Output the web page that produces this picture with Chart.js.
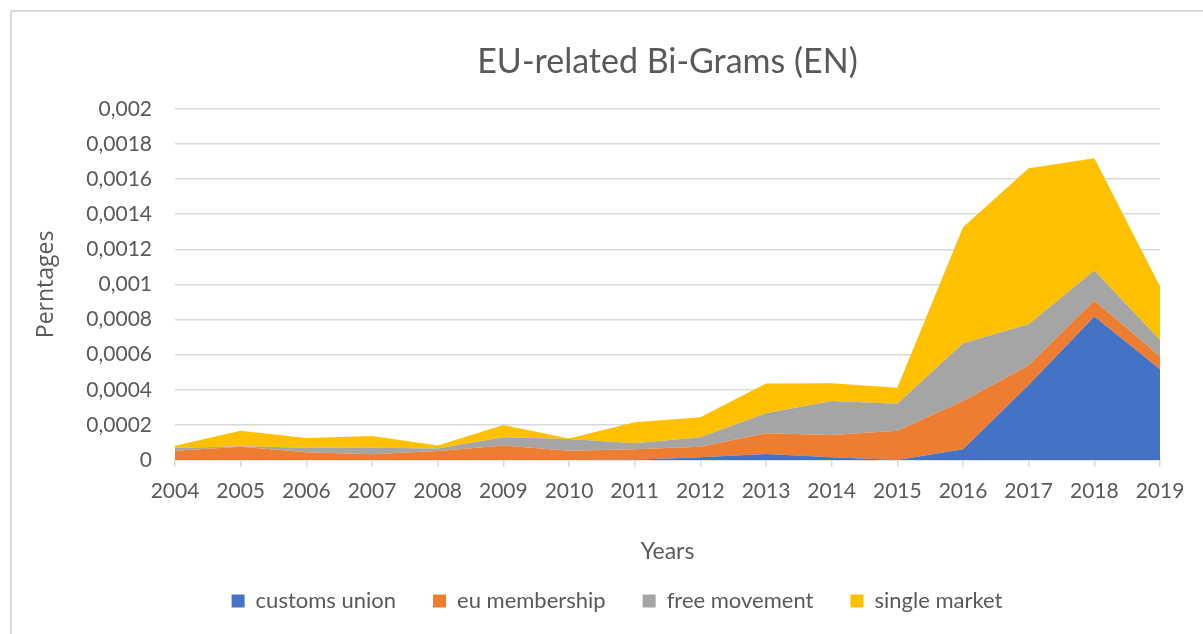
<!DOCTYPE html>
<html>
<head>
<meta charset="utf-8">
<title>EU-related Bi-Grams (EN)</title>
<script src="https://cdn.jsdelivr.net/npm/chart.js@4.4.1/dist/chart.umd.min.js"></script>
<style>
  html, body { margin: 0; padding: 0; background: #ffffff; }
  #wrap { position: relative; width: 1203px; height: 634px; overflow: hidden; }
  #frame {
    position: absolute; left: 10px; top: 10px; right: -4px; bottom: -4px;
    border-top: 2px solid #d9d9d9; border-left: 2px solid #d9d9d9;
    pointer-events: none;
  }
  canvas { position: absolute; left: 0; top: 0; }
</style>
</head>
<body>
<div id="wrap">
  <canvas id="chart" width="1203" height="634"></canvas>
  <div id="frame"></div>
</div>
<script>
// Years on the category axis
const years = ['2004','2005','2006','2007','2008','2009','2010','2011',
               '2012','2013','2014','2015','2016','2017','2018','2019'];

// Relative frequency of each bi-gram per year
const customsUnion = [0, 0, 0, 0, 0, 0, 0, 0.000002, 0.000015, 0.000034, 0.000015, 0,
                      0.000061, 0.000427, 0.000817, 0.000517];
const euMembership = [0.000053, 0.000076, 0.000044, 0.000033, 0.000051, 0.000082, 0.000053, 0.000059,
                      0.000061, 0.000118, 0.000127, 0.000167, 0.000275, 0.000113, 0.000091, 0.000072];
const freeMovement = [0.000015, 0.000003, 0.000026, 0.000037, 0.000015, 0.000047, 0.000067, 0.000034,
                      0.000053, 0.000114, 0.000194, 0.000154, 0.000329, 0.000233, 0.000171, 0.000095];
const singleMarket = [0.000013, 0.000088, 0.000055, 0.000067, 0.000017, 0.000070, 0.000003, 0.000120,
                      0.000114, 0.000169, 0.000101, 0.000091, 0.000661, 0.000889, 0.000640, 0.000304];

// Value-axis labels (comma decimal separator)
const yTickLabels = ['0', '0,0002', '0,0004', '0,0006', '0,0008', '0,001',
                     '0,0012', '0,0014', '0,0016', '0,0018', '0,002'];

const seriesNames = ['customs union', 'eu membership', 'free movement', 'single market'];
const seriesColors = ['#4472C4', '#ED7D31', '#A5A5A5', '#FFC000'];
const seriesValues = [customsUnion, euMembership, freeMovement, singleMarket];

const textColor = '#595959';
const gridColor = '#d9d9d9';

const datasets = seriesValues.map((vals, i) => ({
  label: seriesNames[i],
  data: vals,
  backgroundColor: seriesColors[i],
  borderColor: seriesColors[i],
  borderWidth: 0,
  pointRadius: 0,
  pointHoverRadius: 0,
  tension: 0,
  fill: i === 0 ? 'origin' : '-1'
}));

new Chart(document.getElementById('chart'), {
  type: 'line',
  data: { labels: years, datasets },
  options: {
    responsive: false,
    animation: false,
    events: [],
    layout: { padding: { left: 74, right: 43, top: 0, bottom: 12 } },
    plugins: {
      title: {
        display: true,
        text: 'EU-related Bi-Grams (EN)',
        fullSize: false,
        color: textColor,
        font: { family: 'Lato', size: 34, weight: 'normal' },
        padding: { top: 42, bottom: 26 }
      },
      legend: {
        position: 'bottom',
        labels: {
          color: textColor,
          font: { family: 'Lato', size: 22 },
          boxWidth: 13,
          boxHeight: 13,
          padding: 37
        }
      },
      tooltip: { enabled: false }
    },
    scales: {
      x: {
        type: 'category',
        offset: false,
        grid: {
          drawOnChartArea: false,
          drawTicks: true,
          tickLength: 7,
          color: gridColor,
          lineWidth: 1.5
        },
        border: { display: true, color: gridColor, width: 1.5 },
        ticks: {
          color: textColor,
          font: { family: 'Lato', size: 21 },
          padding: 12,
          maxRotation: 0,
          autoSkip: false
        },
        title: {
          display: true,
          text: 'Years',
          color: textColor,
          font: { family: 'Lato', size: 23 },
          padding: { top: 0, bottom: -12 }
        },
        afterFit: (scale) => { scale.height = 93; }
      },
      y: {
        stacked: true,
        min: 0,
        max: 0.002,
        ticks: {
          stepSize: 0.0002,
          color: textColor,
          font: { family: 'Lato', size: 21 },
          padding: 23,
          callback: (value, index) => yTickLabels[index]
        },
        grid: { color: gridColor, lineWidth: 1.5, drawTicks: false },
        border: { display: false },
        title: {
          display: true,
          text: 'Perntages',
          color: textColor,
          font: { family: 'Open Sans', size: 23 },
          padding: { top: -41, bottom: 0 }
        },
        afterFit: (scale) => { scale.width = 101; }
      }
    }
  }
});
</script>
</body>
</html>
